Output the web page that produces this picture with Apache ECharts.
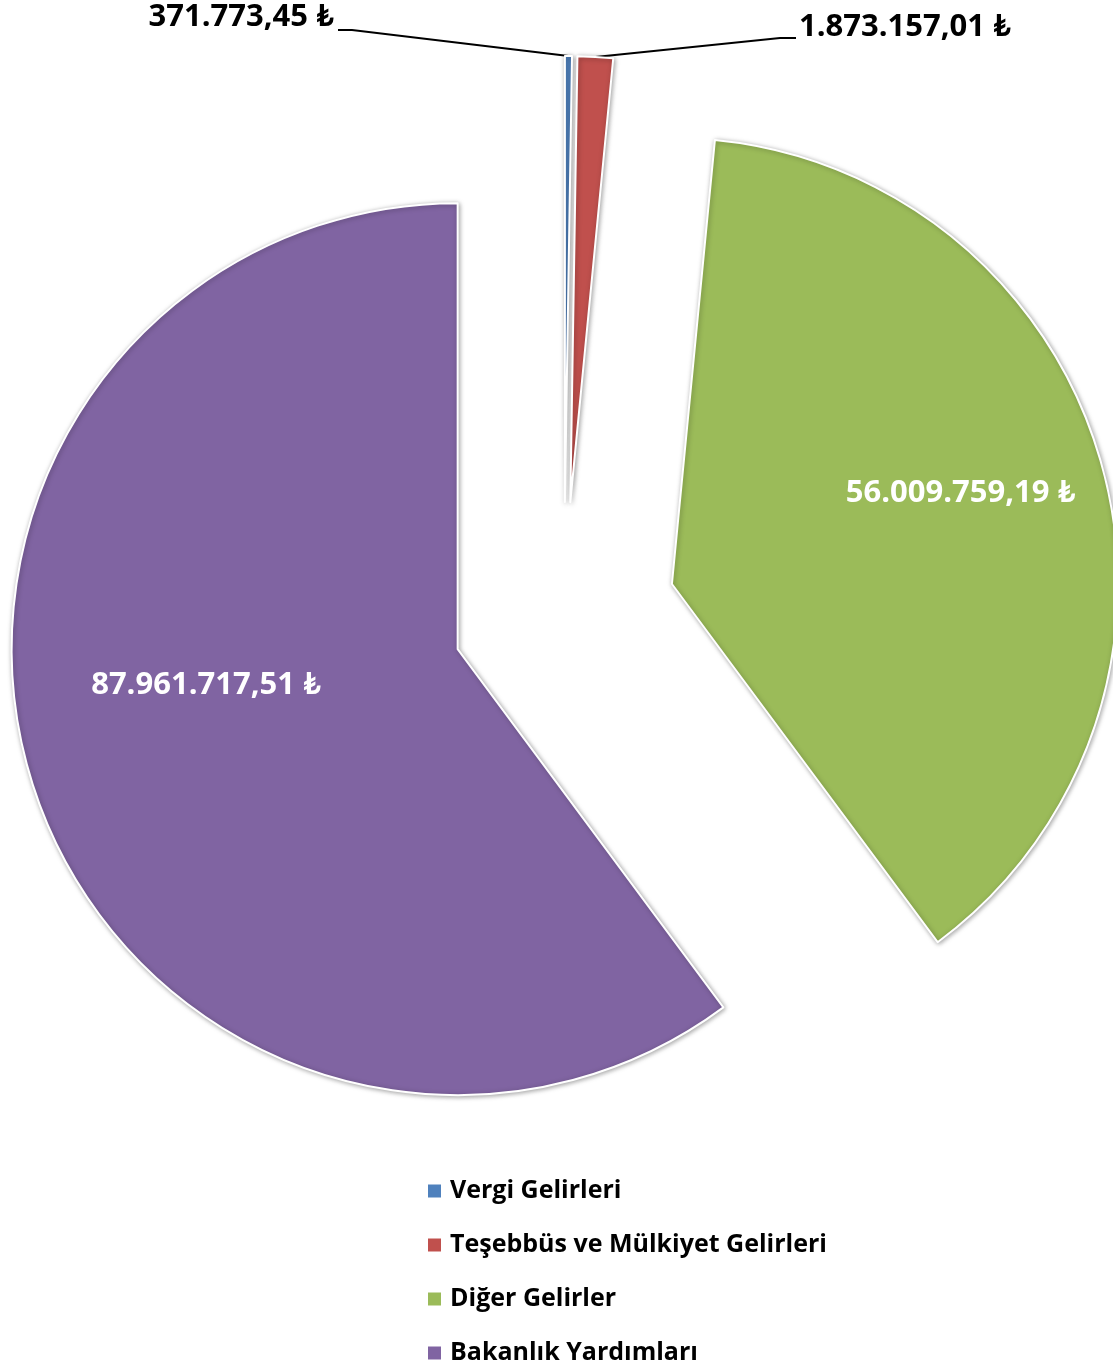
<!DOCTYPE html>
<html><head><meta charset="utf-8">
<script src="https://cdn.jsdelivr.net/npm/echarts@6/dist/echarts.min.js"></script>
<style>html,body{margin:0;padding:0;background:#fff}#c{width:1113px;height:1365px}</style>
</head><body><div id="c"></div>
<script>
const categories = ['Vergi Gelirleri', 'Teşebbüs ve Mülkiyet Gelirleri', 'Diğer Gelirler', 'Bakanlık Yardımları'];
const values = [371773.45, 1873157.01, 56009759.19, 87961717.51];
const colors = ['#4F81BD', '#C0504D', '#9BBB59', '#8064A2'];

function fmtTR(v) {
  const parts = v.toFixed(2).split('.');
  const intPart = parts[0].replace(/\B(?=(\d{3})+(?!\d))/g, '.');
  return intPart + ',' + parts[1] + ' ₺';
}

const FONT = '"Open Sans", Lato, "Noto Sans", "DejaVu Sans", sans-serif';
const chart = echarts.init(document.getElementById('c'), null, {renderer: 'canvas'});

// exploded pie: every slice pushed out from the common centre along its mid-angle
const BASE_CENTER = [564, 614];
const RADIUS = 446;
const EXPLODE = 112;
const total = values.reduce((a, b) => a + b, 0);

function labelLayoutFor(i) {
  return function (params) {
    if (params.dataIndex !== i) return;
    const pts = params.labelLinePoints;
    if (i === 2) return {dx: 71, dy: -30};
    if (i === 3) return {dx: -37, dy: -35};
    if (i === 0) {
      const right = 334;
      const out = {x: right, y: 17, align: 'right', verticalAlign: 'middle'};
      if (pts) out.labelLinePoints = [pts[0], [right + 18, 30], [right + 4, 30]];
      return out;
    }
    if (i === 1) {
      const left = 799;
      const out = {x: left, y: 27, align: 'left', verticalAlign: 'middle'};
      if (pts) out.labelLinePoints = [pts[0], [left - 19, 38], [left - 3, 38]];
      return out;
    }
  };
}

let cum = 0;
const series = categories.map((name, i) => {
  const mid = (cum + values[i] / 2) / total;
  cum += values[i];
  const ang = (90 - 360 * mid) * Math.PI / 180;
  const center = [BASE_CENTER[0] + EXPLODE * Math.cos(ang), BASE_CENTER[1] - EXPLODE * Math.sin(ang)];
  const inside = i >= 2;
  return {
    type: 'pie',
    name: name,
    center: center,
    radius: RADIUS,
    startAngle: 90,
    clockwise: true,
    avoidLabelOverlap: false,
    silent: true,
    emphasis: {disabled: true},
    labelLayout: labelLayoutFor(i),
    data: categories.map((n, j) => {
      if (j !== i) {
        return {
          name: n, value: values[j],
          itemStyle: {color: 'rgba(0,0,0,0)', borderWidth: 0, shadowBlur: 0, shadowColor: 'rgba(0,0,0,0)'},
          label: {show: false}, labelLine: {show: false}
        };
      }
      return {
        name: n, value: values[j],
        itemStyle: {
          color: colors[j], borderColor: '#fff', borderWidth: 2,
          shadowBlur: 5, shadowColor: 'rgba(0,0,0,0.35)', shadowOffsetX: 1, shadowOffsetY: 1
        },
        label: {
          show: true,
          position: inside ? 'inside' : 'outside',
          color: inside ? '#fff' : '#000',
          formatter: p => fmtTR(p.value),
          fontFamily: FONT, fontWeight: 'bold', fontSize: 31
        },
        labelLine: {show: !inside, length: 20, length2: 20, lineStyle: {color: '#000', width: 2}}
      };
    })
  };
});

chart.setOption({
  animation: false,
  legend: {
    orient: 'vertical',
    left: 428,
    top: 1177,
    height: 240,
    padding: 0,
    icon: 'rect',
    itemWidth: 13,
    itemHeight: 13,
    itemGap: 26,
    selectedMode: false,
    data: categories.map((n, i) => ({name: n, itemStyle: {color: colors[i]}})),
    textStyle: {fontFamily: FONT, fontWeight: 'bold', fontSize: 25, color: '#000', lineHeight: 28, padding: [0, 0, 0, 4]}
  },
  series: series
});
</script></body></html>
